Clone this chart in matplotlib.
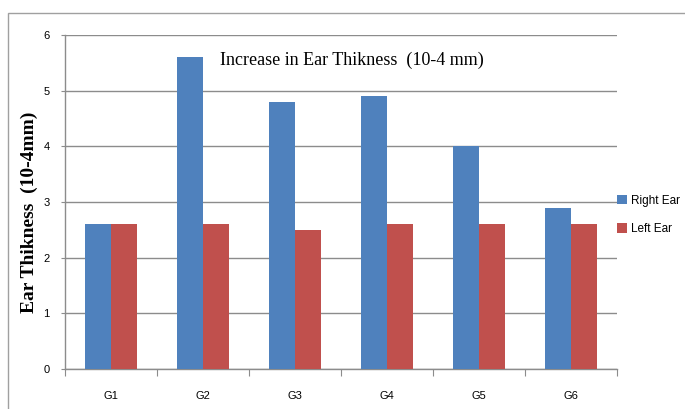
import numpy as np
import matplotlib
matplotlib.use("Agg")
import matplotlib.pyplot as plt
from matplotlib.patches import Rectangle

# ear thickness increase per group (10-4 mm)
groups = ["G1", "G2", "G3", "G4", "G5", "G6"]
right_ear = [2.6, 5.6, 4.8, 4.9, 4.0, 2.9]
left_ear = [2.6, 2.6, 2.5, 2.6, 2.6, 2.6]

blue = "#4F81BD"
red = "#C0504D"
grid_col = "#8C8C8C"

fig = plt.figure(figsize=(6.85, 4.09), dpi=100)
# outer chart frame
fig.patches.append(Rectangle((8 / 685, -0.05), 1.0, 1 - 13 / 409 + 0.05,
                             transform=fig.transFigure, fill=False,
                             edgecolor="#A0A0A0", linewidth=1.0))

ax = fig.add_axes([65 / 685, 1 - 369 / 409, (617 - 65) / 685, (369 - 35) / 409])

x = np.arange(len(groups))
w = 0.283
ax.bar(x - w / 2, right_ear, w, color=blue, label="Right Ear", zorder=3)
ax.bar(x + w / 2, left_ear, w, color=red, label="Left Ear", zorder=3)

ax.set_xlim(-0.5, len(groups) - 0.5)
ax.set_ylim(0, 6)
ax.set_yticks(range(7))
ax.yaxis.grid(True, color=grid_col, linewidth=1.0, zorder=0)
ax.set_axisbelow(True)

for s in ["top", "right"]:
    ax.spines[s].set_visible(False)
for s in ["left", "bottom"]:
    ax.spines[s].set_color(grid_col)
    ax.spines[s].set_linewidth(1.0)

# tick marks on category boundaries, labels at centres
ax.set_xticks(np.arange(-0.5, len(groups), 1.0))
ax.set_xticklabels([])
ax.set_xticks(x, minor=True)
ax.set_xticklabels(groups, minor=True, fontsize=8, family="Liberation Sans")
ax.tick_params(axis="x", which="major", length=5, color=grid_col, direction="out")
ax.tick_params(axis="x", which="minor", length=0, pad=16)
ax.tick_params(axis="y", length=3, color=grid_col, labelsize=8, pad=8)
for lab in ax.get_yticklabels():
    lab.set_family("Liberation Sans")

ax.text(0.52, 0.925, "Increase in Ear Thikness  (10-4 mm)", transform=ax.transAxes,
        ha="center", va="center", family="Liberation Serif", fontsize=13)
ax.set_ylabel("Ear Thikness  (10-4mm)", family="Liberation Serif",
              fontweight="bold", fontsize=14)
ax.yaxis.set_label_coords(-0.049, 0.47)

ax.legend(loc="center left", bbox_to_anchor=(1.0, 0.461), frameon=False,
          borderaxespad=0, borderpad=0,
          handlelength=0.85, handleheight=0.85, handletextpad=0.3,
          labelspacing=1.4, prop={"family": "Liberation Sans", "size": 8.5})

fig.savefig("out.png", dpi=100)
